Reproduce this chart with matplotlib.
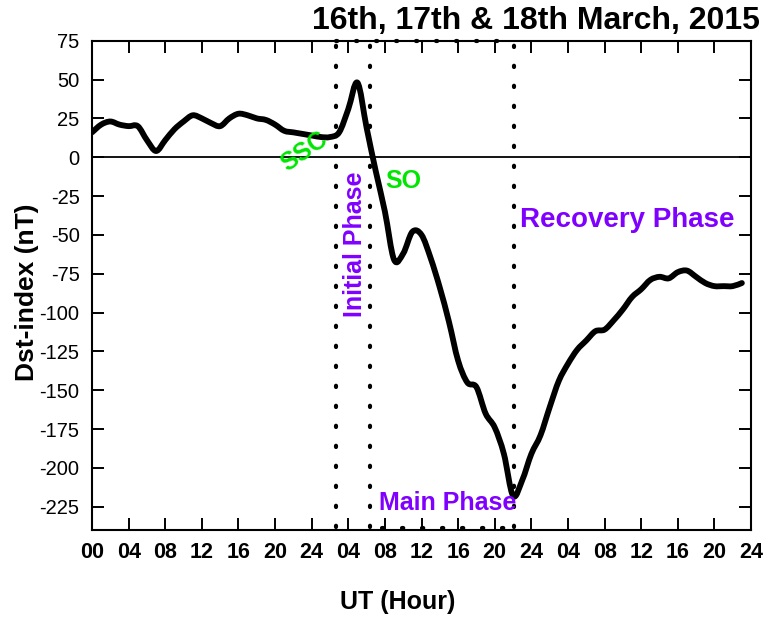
import matplotlib
matplotlib.use('Agg')
import matplotlib.pyplot as plt
from matplotlib.path import Path
from matplotlib.patches import PathPatch
import numpy as np

plt.rcParams['font.family'] = ['Liberation Sans', 'DejaVu Sans']

# hourly Dst values, 16 March 00 UT -> 18 March 23 UT
dst = [16, 21, 23, 21, 20, 20, 11, 4, 11, 18,
       23, 27, 25, 22, 20, 25, 28, 27, 25, 24,
       21, 17, 16, 15, 14, 13, 13, 16, 31, 48,
       19, -9, -35, -66, -62, -48, -50, -65, -84, -106,
       -131, -145, -148, -165, -174, -191, -218, -208, -191, -179,
       -161, -144, -133, -124, -118, -112, -111, -105, -98, -90,
       -85, -79, -77, -78, -74, -73, -77, -81, -83, -83,
       -83, -81]
hours = np.arange(len(dst))

xticks = list(range(0, 73, 4))
xlabels = ['00', '04', '08', '12', '16', '20', '24',
           '04', '08', '12', '16', '20', '24',
           '04', '08', '12', '16', '20', '24']
yticks = list(range(-225, 76, 25))

# phase boundaries (hours)
ssc_time = 26.7
so_time = 30.4
min_time = 46.1


def smooth_path(x, y):
    # bezier curve through the points (catmull-rom style tangents)
    pts = np.column_stack([x, y]).astype(float)
    verts = [pts[0]]
    codes = [Path.MOVETO]
    n = len(pts)
    for i in range(n - 1):
        p0 = pts[max(i - 1, 0)]
        p1 = pts[i]
        p2 = pts[i + 1]
        p3 = pts[min(i + 2, n - 1)]
        verts += [p1 + (p2 - p0) / 6, p2 - (p3 - p1) / 6, p2]
        codes += [Path.CURVE4] * 3
    return Path(verts, codes)


fig = plt.figure(figsize=(7.63, 6.19), dpi=100)
ax = fig.add_axes([0.1206, 0.1438, 0.8637, 0.7904])

ax.axhline(0, color='black', lw=1.3, zorder=1)

dot = dict(color='black', lw=3.0, linestyle=(0, (0.3, 4.5)),
           dash_capstyle='round', clip_on=False, zorder=2)
for t in [ssc_time, so_time, min_time]:
    ax.plot([t, t], [-238, 75], **dot)
ax.plot([ssc_time, min_time], [75, 75], **dot)
ax.plot([31.7, 45.0], [-239, -239], **dot)

ax.add_patch(PathPatch(smooth_path(hours, dst), facecolor='none', edgecolor='black',
                       lw=4.2, joinstyle='round', capstyle='round', zorder=3))

ax.set_xlim(0, 72)
ax.set_ylim(-240, 75)
ax.set_xticks(xticks)
ax.set_xticklabels(xlabels, fontweight='bold', fontsize=15.5)
ax.set_yticks(yticks)
ax.set_yticklabels([str(v) for v in yticks], fontsize=14.5)
ax.tick_params(axis='x', direction='in', length=8.4, width=1.4, top=True, pad=9)
ax.tick_params(axis='y', direction='in', length=8.4, width=1.4, right=True, pad=9)
for s in ax.spines.values():
    s.set_linewidth(1.5)

green = '#00e600'
purple = '#8000ff'
ax.text(23.2, 3.7, 'SSC', color=green, fontsize=18, fontweight='bold',
        rotation=35, ha='center', va='center')
ax.text(34.0, -15.6, 'SO', color=green, fontsize=18, fontweight='bold',
        ha='center', va='center')
ax.text(28.7, -56, 'Initial Phase', color=purple, fontsize=18, fontweight='bold',
        rotation=90, ha='center', va='center')
ax.text(46.8, -40.6, 'Recovery Phase', color=purple, fontsize=20, fontweight='bold',
        ha='left', va='center')
ax.text(31.3, -222.8, 'Main Phase', color=purple, fontsize=18, fontweight='bold',
        ha='left', va='center')

fig.text(0.703, 0.966, '16th, 17th & 18th March, 2015', fontsize=23, fontweight='bold',
         ha='center', va='center')
fig.text(0.521, 0.028, 'UT (Hour)', fontsize=18, fontweight='bold',
         ha='center', va='center')
fig.text(0.035, 0.528, 'Dst-index (nT)', fontsize=19, fontweight='bold',
         rotation=90, ha='center', va='center')

fig.savefig('out.png', dpi=100)
